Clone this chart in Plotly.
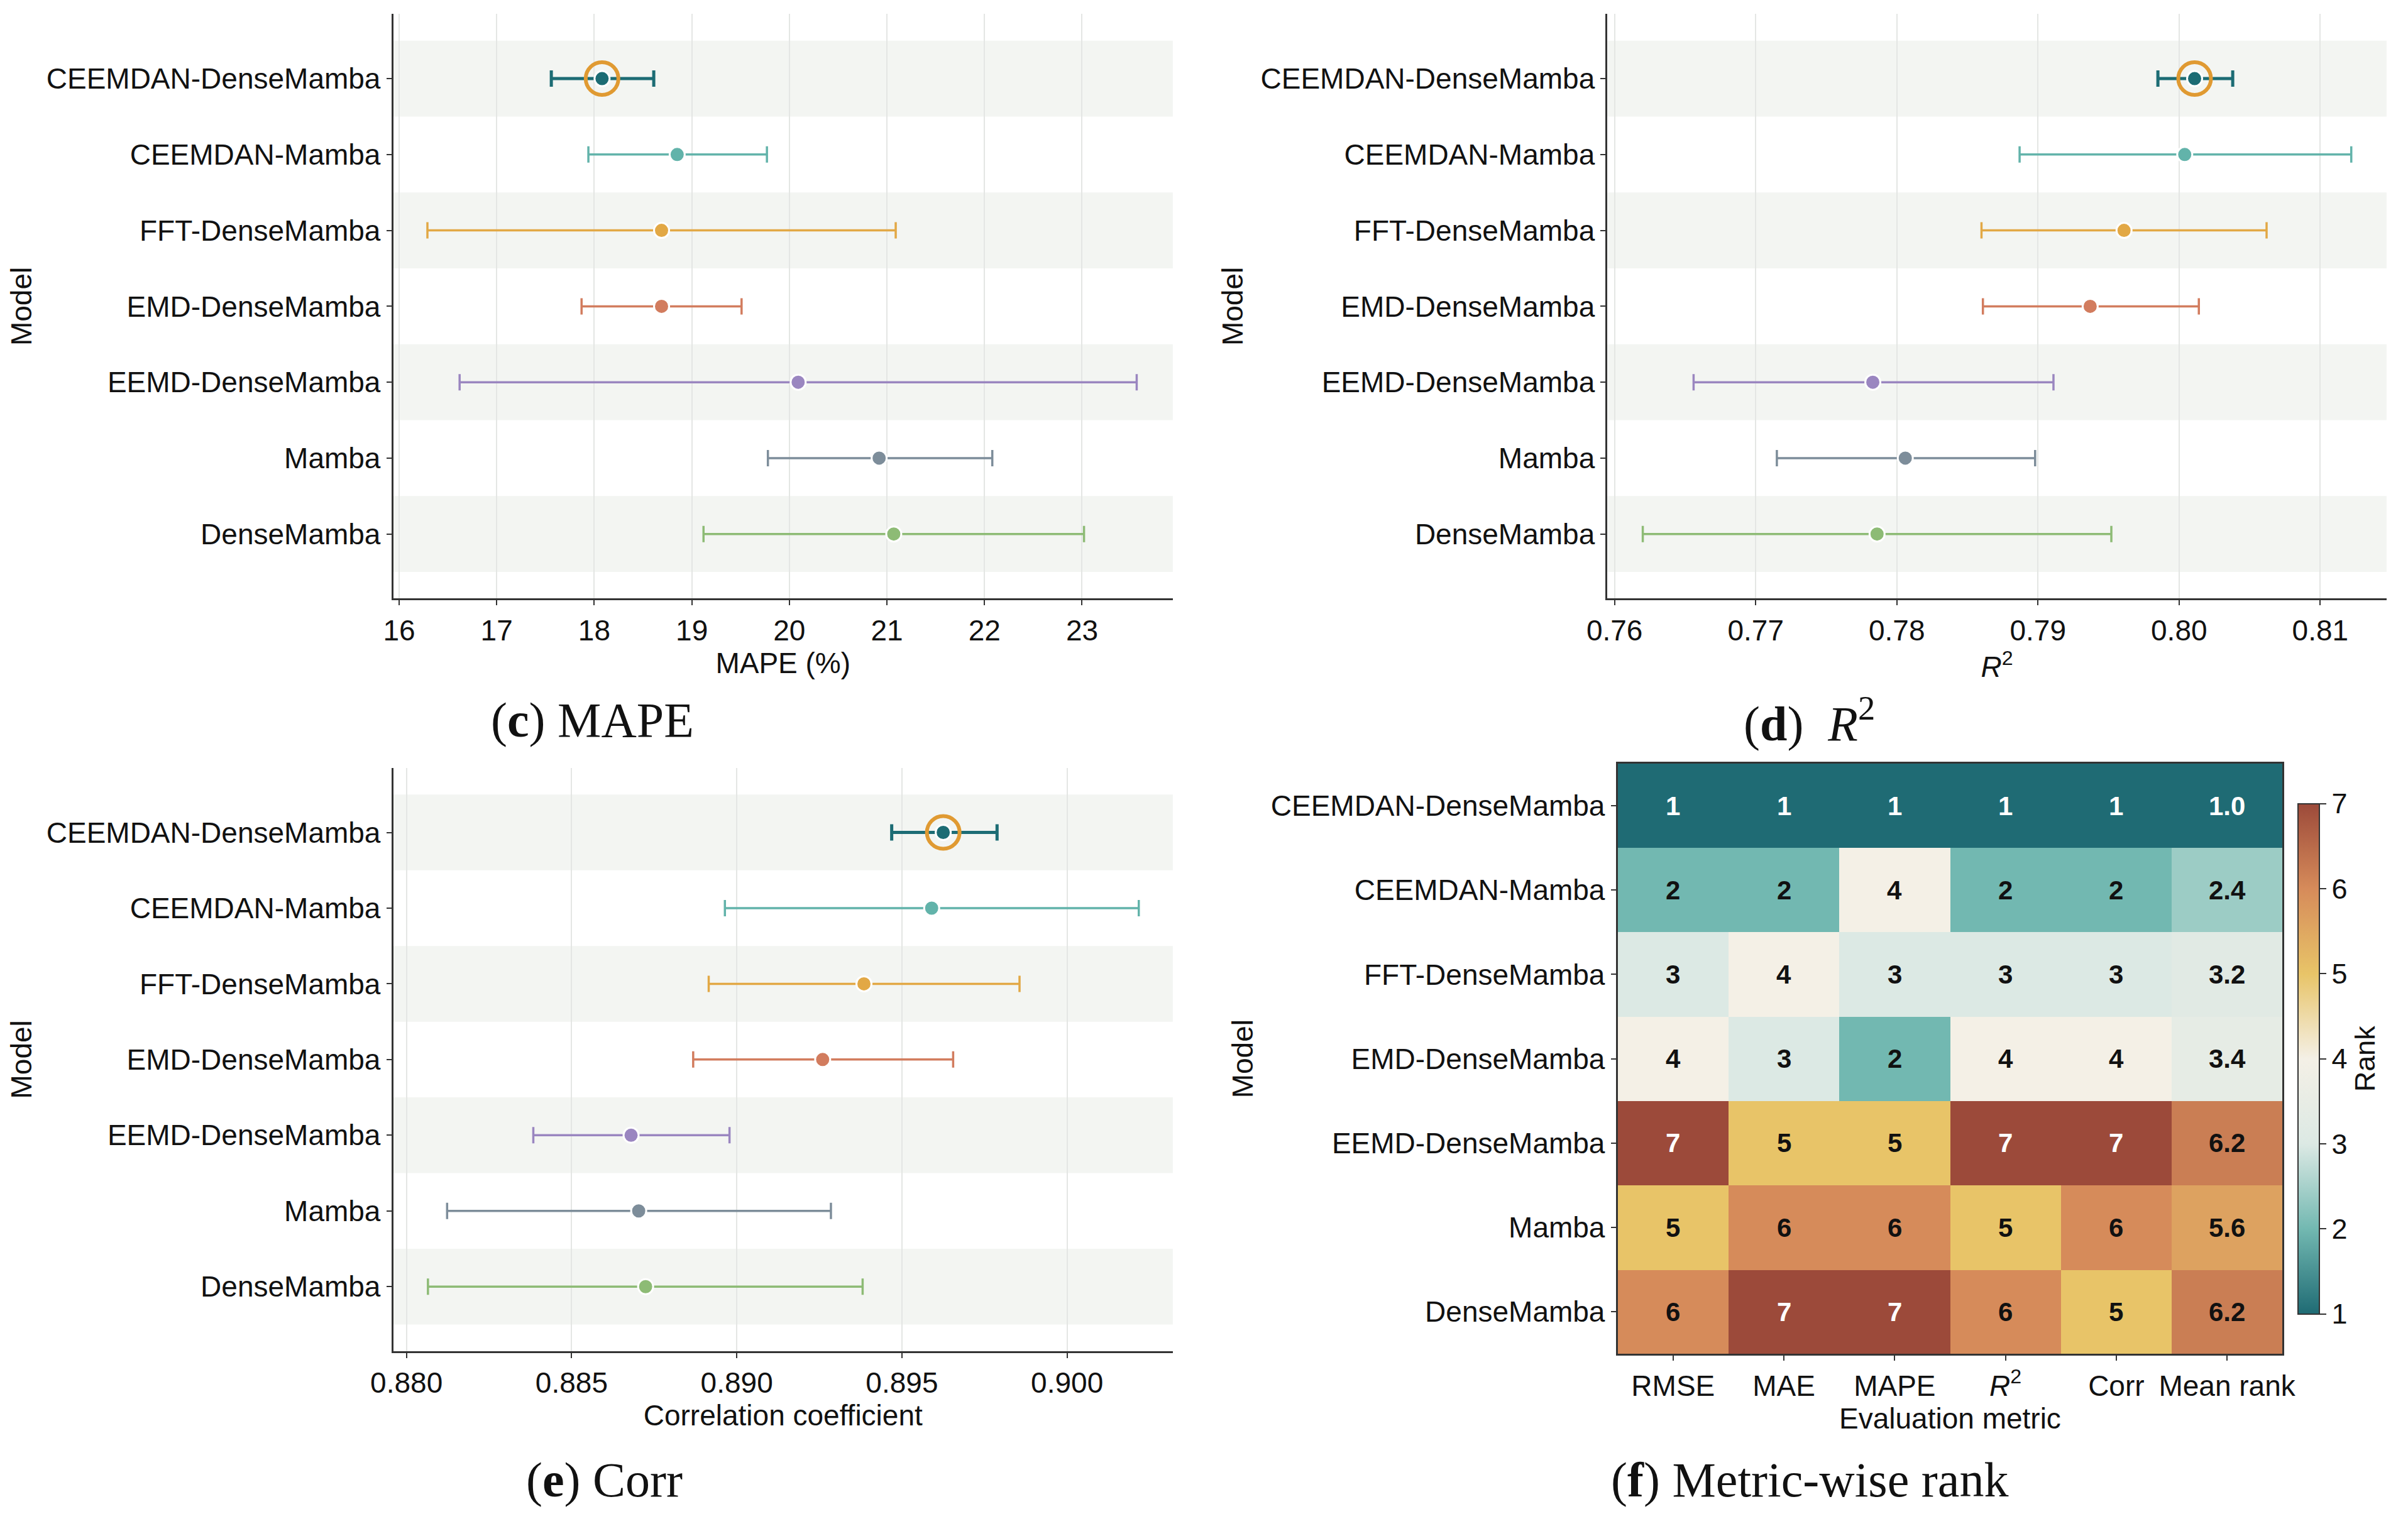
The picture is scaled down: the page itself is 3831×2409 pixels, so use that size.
import numpy as np
import plotly.graph_objects as go

models = [
    "CEEMDAN-DenseMamba",
    "CEEMDAN-Mamba",
    "FFT-DenseMamba",
    "EMD-DenseMamba",
    "EEMD-DenseMamba",
    "Mamba",
    "DenseMamba",
]
colors = ["#1c6c74", "#62b3aa", "#e2a845", "#d27c5e", "#9a86c0", "#7d8d9a", "#8dbb75"]

# MAPE (%) : mean, lower, upper
mape_mean = [18.08, 18.85, 18.69, 18.69, 20.09, 20.92, 21.07]
mape_lo = [17.56, 17.94, 16.29, 17.87, 16.62, 19.78, 19.12]
mape_hi = [18.61, 19.77, 21.09, 19.51, 23.56, 22.08, 23.02]

# R2
r2_mean = [0.8011, 0.8004, 0.7961, 0.7937, 0.7783, 0.7806, 0.7786]
r2_lo = [0.7985, 0.7887, 0.7860, 0.7861, 0.7656, 0.7715, 0.7620]
r2_hi = [0.8038, 0.8122, 0.8062, 0.8014, 0.7911, 0.7898, 0.7952]

# correlation coefficient
corr_mean = [0.89625, 0.89590, 0.89385, 0.89260, 0.88680, 0.88703, 0.88724]
corr_lo = [0.89469, 0.88964, 0.88915, 0.88868, 0.88384, 0.88123, 0.88065]
corr_hi = [0.89788, 0.90217, 0.89856, 0.89655, 0.88978, 0.89285, 0.89381]

# metric-wise ranks
metrics = ["RMSE", "MAE", "MAPE", "<i>R</i><sup>2</sup>", "Corr"]
rank_rmse = [1, 2, 3, 4, 7, 5, 6]
rank_mae = [1, 2, 4, 3, 5, 6, 7]
rank_mape = [1, 4, 3, 2, 5, 6, 7]
rank_r2 = [1, 2, 3, 4, 7, 5, 6]
rank_corr = [1, 2, 3, 4, 7, 6, 5]

W, H = 3831, 2409
FONT = "Liberation Sans"
AX = "#333333"
BAND = "#f3f5f2"
GRID = "#e4e6e4"
HL = "#e09a32"

fig = go.Figure()

panels = [
    (mape_mean, mape_lo, mape_hi, "x", "y"),
    (r2_mean, r2_lo, r2_hi, "x2", "y2"),
    (corr_mean, corr_lo, corr_hi, "x3", "y3"),
]

for mean, lo, hi, xa, ya in panels:
    mean = np.array(mean)
    for i, m in enumerate(models):
        fig.add_trace(go.Scatter(
            x=[mean[i]], y=[m], xaxis=xa, yaxis=ya, mode="markers",
            marker=dict(size=24, color=colors[i], line=dict(color="white", width=3)),
            error_x=dict(type="data", symmetric=False,
                         array=[hi[i] - mean[i]], arrayminus=[mean[i] - lo[i]],
                         color=colors[i], thickness=5 if i == 0 else 3.5, width=13),
            showlegend=False, hoverinfo="skip"))
    # highlight best model
    fig.add_trace(go.Scatter(
        x=[mean[0]], y=[models[0]], xaxis=xa, yaxis=ya, mode="markers",
        marker=dict(symbol="circle-open", size=52, color=HL, line=dict(color=HL, width=6)),
        showlegend=False, hoverinfo="skip"))

# heatmap
ranks = np.array([rank_rmse, rank_mae, rank_mape, rank_r2, rank_corr]).T
mean_rank = ranks.mean(axis=1)
z = np.column_stack([ranks, mean_rank])
cols = metrics + ["Mean rank"]

scale = [[0, "#1f6b74"], [1/6, "#72b8b1"], [2/6, "#dce9e4"], [3/6, "#f4f0e6"],
         [4/6, "#e8c468"], [5/6, "#d68b5a"], [1, "#9c4a3a"]]

fig.add_trace(go.Heatmap(
    z=z, x=cols, y=models, xaxis="x4", yaxis="y4", zmin=1, zmax=7,
    colorscale=scale, xgap=0, ygap=0, hoverinfo="skip",
    colorbar=dict(
        x=0.9545, xanchor="left", y=0.304, yanchor="middle", len=0.337, ypad=0,
        thickness=34, outlinecolor=AX, outlinewidth=2,
        ticks="outside", ticklen=10, tickwidth=2, tickcolor=AX,
        tickvals=[1, 2, 3, 4, 5, 6, 7], tickfont=dict(size=45, family=FONT, color="#111"),
        title=dict(text="Rank", side="right", font=dict(size=45, family=FONT, color="#111")),
    ),
))

for r, m in enumerate(models):
    for c, col in enumerate(cols):
        v = z[r, c]
        txt = "%.1f" % v if c == len(cols) - 1 else "%d" % v
        fig.add_annotation(
            x=col, y=m, xref="x4", yref="y4", text="<b>%s</b>" % txt, showarrow=False,
            font=dict(size=42, family=FONT, color="white" if (v <= 1.5 or v >= 6.5) else "#111"))

# shaded row bands
for xa, ya in [("x", "y"), ("x2", "y2"), ("x3", "y3")]:
    for i in range(0, len(models), 2):
        fig.add_shape(type="rect", xref=xa + " domain", yref=ya, x0=0, x1=1,
                      y0=i - 0.5, y1=i + 0.5, fillcolor=BAND, line_width=0, layer="below")

tick_font = dict(size=46, family=FONT, color="#111")
title_font = dict(size=46, family=FONT, color="#111")

def xax(domain, rng, dtick, fmt, title, anchor):
    return dict(domain=domain, range=rng, dtick=dtick, tickformat=fmt, anchor=anchor,
                showline=True, linecolor=AX, linewidth=3, ticks="outside", ticklen=8,
                tickwidth=2, tickcolor=AX, showgrid=True, gridcolor=GRID, gridwidth=2,
                zeroline=False, tickfont=tick_font,
                title=dict(text=title, font=title_font, standoff=0))

def yax(domain, anchor):
    return dict(domain=domain, type="category", categoryorder="array", categoryarray=models,
                range=[6.85, -0.85], anchor=anchor, showline=True, linecolor=AX, linewidth=3,
                ticks="outside", ticklen=8, tickwidth=2, tickcolor=AX, showgrid=False,
                zeroline=False, tickfont=tick_font,
                title=dict(text="Model", font=title_font, standoff=14))

top = [0.608, 0.994]
bot = [0.111, 0.496]
left = [0.1539, 0.4826]
right = [0.6659, 0.9944]

fig.update_layout(
    width=W, height=H, margin=dict(l=0, r=0, t=0, b=0),
    paper_bgcolor="white", plot_bgcolor="white",
    font=dict(family=FONT),
    xaxis=xax(left, [15.94, 23.93], 1, "d", "MAPE (%)", "y"),
    yaxis=yax(top, "x"),
    xaxis2=xax(right, [0.7595, 0.8147], 0.01, ".2f", "<i>R</i><sup>2</sup>", "y2"),
    yaxis2=yax(top, "x2"),
    xaxis3=xax(left, [0.8796, 0.9032], 0.005, ".3f", "Correlation coefficient", "y3"),
    yaxis3=yax(bot, "x3"),
    xaxis4=dict(domain=[0.6702, 0.9505], anchor="y4", showline=True, mirror=True, linecolor=AX,
                linewidth=3, ticks="outside", ticklen=8, tickwidth=2, tickcolor=AX,
                tickfont=tick_font, title=dict(text="Evaluation metric", font=title_font, standoff=0)),
    yaxis4=dict(domain=[0.109, 0.499], anchor="x4", autorange="reversed", showline=True,
                mirror=True, linecolor=AX, linewidth=3, ticks="outside", ticklen=8,
                tickwidth=2, tickcolor=AX, tickfont=tick_font,
                title=dict(text="Model", font=title_font, standoff=14)),
)

# panel captions
caps = [
    ("(<b>c</b>) MAPE", 0.238, 0.528),
    ("(<b>d</b>)  <i>R</i><sup>2</sup>", 0.751, 0.528),
    ("(<b>e</b>) Corr", 0.243, 0.026),
    ("(<b>f</b>) Metric-wise rank", 0.751, 0.026),
]
for t, x, y in caps:
    fig.add_annotation(text=t, x=x, y=y, xref="paper", yref="paper", showarrow=False,
                       xanchor="center", yanchor="middle",
                       font=dict(size=78, family="Liberation Serif", color="#111"))

fig.write_html("out.html")
